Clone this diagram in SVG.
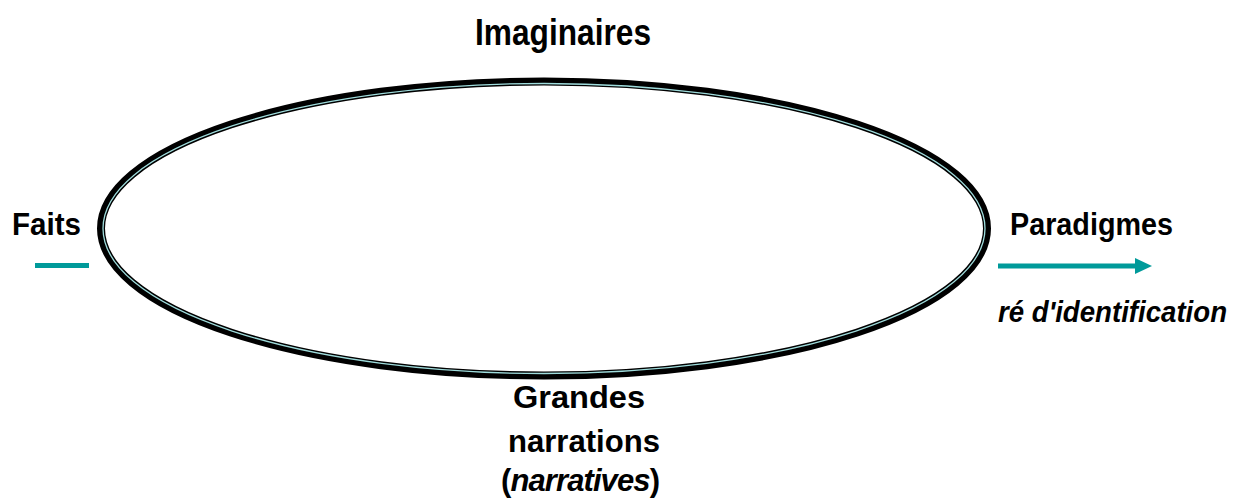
<svg xmlns="http://www.w3.org/2000/svg" width="1240" height="502" viewBox="0 0 1240 502">
<style>
.t{font-family:"Liberation Sans",Arial,sans-serif;font-weight:bold;fill:#000}
.i{font-style:italic}
.c{stroke:#009a9a;stroke-width:5}
</style>
<rect width="1240" height="502" fill="#fff"/>
<g id="ellipse">
<ellipse cx="544" cy="228.5" rx="443" ry="147" fill="none" stroke="#000" stroke-width="8"/>
<ellipse cx="544" cy="228.5" rx="441" ry="145" fill="none" stroke="#9fdcdc" stroke-width="1.3"/>
</g>
<g id="connectors">
<line class="c" x1="35" y1="265.5" x2="89" y2="265.5"/>
<line class="c" x1="998" y1="266" x2="1138" y2="266"/>
<polygon points="1135,258 1152,266 1135,274" fill="#009a9a"/>
</g>
<g id="imaginaires"><text class="t" x="475" y="45" font-size="37" textLength="176" lengthAdjust="spacingAndGlyphs">Imaginaires</text></g>
<g id="faits"><text class="t" x="12" y="235" font-size="32" textLength="69" lengthAdjust="spacingAndGlyphs">Faits</text></g>
<g id="paradigmes"><text class="t" x="1010" y="235" font-size="32" textLength="163" lengthAdjust="spacingAndGlyphs">Paradigmes</text>
<text class="t i" x="998" y="322" font-size="29" textLength="229" lengthAdjust="spacingAndGlyphs">ré d'identification</text></g>
<g id="grandes">
<text class="t" x="513" y="408" font-size="31" textLength="132" lengthAdjust="spacingAndGlyphs">Grandes</text>
<text class="t" x="508" y="452" font-size="31" textLength="152" lengthAdjust="spacingAndGlyphs">narrations</text>
<text class="t" x="501" y="491" font-size="31" letter-spacing="-0.9">(<tspan class="i">narratives</tspan>)</text>
</g>
</svg>
